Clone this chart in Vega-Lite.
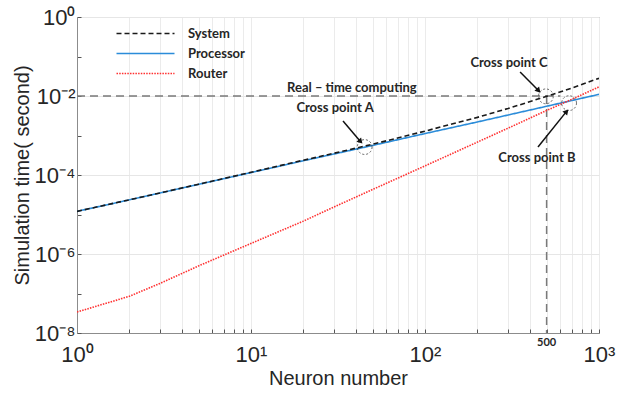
{
  "$schema": "https://vega.github.io/schema/vega-lite/v6.json",
  "width": 522,
  "height": 316,
  "autosize": {"type": "none"},
  "padding": {"left": 77, "top": 17, "right": 18, "bottom": 67},
  "background": "white",
  "config": {
    "view": {"stroke": "#8c8c8c", "strokeWidth": 1},
    "font": "Liberation Sans",
    "legend": {"title": null, "orient": "none", "legendX": 62, "legendY": 10,
      "symbolType": "M-5.8,0H5.8", "symbolSize": 100, "symbolStrokeWidth": 1.6,
      "labelFont": "Lato", "labelFontWeight": "bold", "labelFontSize": 13, "labelColor": "#262626",
      "labelOffset": 36, "rowPadding": 6, "padding": 0}
  },
  "datasets": {
    "curves": [
      {"n": 1, "value": 1.2e-5, "series": "Processor"},
      {"n": 2, "value": 2.35e-5, "series": "Processor"},
      {"n": 3, "value": 3.5e-5, "series": "Processor"},
      {"n": 5, "value": 5.8e-5, "series": "Processor"},
      {"n": 10, "value": 1.15e-4, "series": "Processor"},
      {"n": 20, "value": 2.3e-4, "series": "Processor"},
      {"n": 30, "value": 3.4e-4, "series": "Processor"},
      {"n": 50, "value": 5.6e-4, "series": "Processor"},
      {"n": 100, "value": 1.12e-3, "series": "Processor"},
      {"n": 200, "value": 2.2e-3, "series": "Processor"},
      {"n": 300, "value": 3.3e-3, "series": "Processor"},
      {"n": 500, "value": 5.5e-3, "series": "Processor"},
      {"n": 700, "value": 7.7e-3, "series": "Processor"},
      {"n": 1000, "value": 1.1e-2, "series": "Processor"},
      {"n": 1, "value": 3.4e-8, "series": "Router"},
      {"n": 2, "value": 8.5e-8, "series": "Router"},
      {"n": 3, "value": 1.8e-7, "series": "Router"},
      {"n": 5, "value": 5.0e-7, "series": "Router"},
      {"n": 10, "value": 1.85e-6, "series": "Router"},
      {"n": 20, "value": 6.8e-6, "series": "Router"},
      {"n": 30, "value": 1.55e-5, "series": "Router"},
      {"n": 50, "value": 4.3e-5, "series": "Router"},
      {"n": 100, "value": 1.7e-4, "series": "Router"},
      {"n": 200, "value": 6.8e-4, "series": "Router"},
      {"n": 300, "value": 1.53e-3, "series": "Router"},
      {"n": 500, "value": 4.3e-3, "series": "Router"},
      {"n": 700, "value": 8.3e-3, "series": "Router"},
      {"n": 1000, "value": 1.7e-2, "series": "Router"},
      {"n": 1, "value": 1.2e-5, "series": "System"},
      {"n": 2, "value": 2.36e-5, "series": "System"},
      {"n": 3, "value": 3.52e-5, "series": "System"},
      {"n": 5, "value": 5.85e-5, "series": "System"},
      {"n": 10, "value": 1.17e-4, "series": "System"},
      {"n": 20, "value": 2.37e-4, "series": "System"},
      {"n": 30, "value": 3.55e-4, "series": "System"},
      {"n": 50, "value": 6.0e-4, "series": "System"},
      {"n": 100, "value": 1.29e-3, "series": "System"},
      {"n": 200, "value": 2.88e-3, "series": "System"},
      {"n": 300, "value": 4.83e-3, "series": "System"},
      {"n": 500, "value": 9.8e-3, "series": "System"},
      {"n": 700, "value": 1.6e-2, "series": "System"},
      {"n": 1000, "value": 2.8e-2, "series": "System"}
    ],
    "refs": [
      {"n": 1, "v": 0.01, "n2": 600, "v2": 0.01},
      {"n": 500, "v": 0.01, "n2": 500, "v2": 1e-8}
    ],
    "circles": [
      {"name": "A", "n": 45, "v": 5.1e-4},
      {"name": "C", "n": 495, "v": 0.0098},
      {"name": "B", "n": 673, "v": 6.6e-3}
    ],
    "arrows": [
      {"name": "A", "n": 33.8, "v": 2.33e-3, "n2": 42.3, "v2": 7.3e-4},
      {"name": "C", "n": 352, "v": 4.05e-2, "n2": 446, "v2": 1.42e-2},
      {"name": "B", "n": 446, "v": 5.1e-4, "n2": 646, "v2": 3.9e-3}
    ],
    "labels": [
      {"text": "Real – time computing", "n": 38, "v": 0.016},
      {"text": "Cross point A", "n": 30.4, "v": 5.0e-3},
      {"text": "Cross point C", "n": 304, "v": 6.8e-2},
      {"text": "Cross point B", "n": 440, "v": 2.7e-4}
    ],
    "ticklabel": [
      {"text": "500", "n": 500, "v": 5.6e-9}
    ]
  },
  "layer": [
    {
      "data": {"name": "refs"},
      "mark": {"type": "rule", "stroke": "#7a7a7a", "strokeDash": [8, 5], "strokeWidth": 1.5},
      "encoding": {
        "x": {"field": "n", "type": "quantitative", "scale": {"type": "log", "domain": [1, 1000], "nice": false},
          "axis": {
            "title": "Neuron number",
            "values": [1,2,3,4,5,6,7,8,9,10,20,30,40,50,60,70,80,90,100,200,300,400,500,600,700,800,900,1000],
            "labelExpr": "datum.value == 1 ? '10⁰' : datum.value == 10 ? '10¹' : datum.value == 100 ? '10²' : datum.value == 1000 ? '10³' : ''",
            "labelFlush": false,
            "labelOverlap": false,
            "labelFontSize": 22,
            "labelColor": "#262626",
            "labelPadding": 15,
            "grid": true,
            "gridColor": "#ebebeb",
            "gridWidth": 1,
            "tickSize": -4,
            "tickColor": "#555555",
            "domainColor": "#8c8c8c",
            "titleFontSize": 20,
            "titleFontWeight": "normal",
            "titleColor": "#262626",
            "titlePadding": 3
          }},
        "y": {"field": "v", "type": "quantitative", "scale": {"type": "log", "domain": [1e-8, 1], "nice": false},
          "axis": {
            "title": "Simulation time( second)",
            "values": [1e-8, 1e-7, 1e-6, 1e-5, 1e-4, 1e-3, 1e-2, 1e-1, 1],
            "labelExpr": "datum.value == 1 ? '10⁰' : abs(datum.value - 0.01) < 1e-9 ? '10⁻²' : abs(datum.value - 1e-4) < 1e-11 ? '10⁻⁴' : abs(datum.value - 1e-6) < 1e-13 ? '10⁻⁶' : abs(datum.value - 1e-8) < 1e-15 ? '10⁻⁸' : ''",
            "labelOverlap": false,
            "labelFlush": false,
            "labelFontSize": 22,
            "labelColor": "#262626",
            "labelPadding": 6,
            "grid": true,
            "gridColor": "#e6e6e6",
            "gridOpacity": {"condition": {"test": "datum.value == 1 || abs(datum.value - 0.01) < 1e-9 || abs(datum.value - 1e-4) < 1e-11 || abs(datum.value - 1e-6) < 1e-13", "value": 1}, "value": 0},
            "tickSize": -4,
            "tickColor": "#555555",
            "domainColor": "#8c8c8c",
            "titleFontSize": 20,
            "titleFontWeight": "normal",
            "titleColor": "#262626",
            "titlePadding": 2
          }},
        "x2": {"field": "n2"},
        "y2": {"field": "v2"}
      }
    },
    {
      "data": {"name": "curves"},
      "mark": {"type": "line", "strokeWidth": 1.6, "clip": true},
      "encoding": {
        "x": {"field": "n", "type": "quantitative"},
        "y": {"field": "value", "type": "quantitative"},
        "color": {"field": "series", "type": "nominal",
          "scale": {"domain": ["System", "Processor", "Router"], "range": ["#1a1a1a", "#2b8cd9", "#ff3030"]}},
        "strokeDash": {"field": "series", "type": "nominal",
          "scale": {"domain": ["System", "Processor", "Router"], "range": [[5, 3], [1, 0], [1.5, 1.2]]}}
      }
    },
    {
      "data": {"name": "circles"},
      "mark": {"type": "point", "shape": "circle", "filled": false, "stroke": "#222222", "strokeWidth": 1, "strokeDash": [2, 2], "size": 220},
      "encoding": {
        "x": {"field": "n", "type": "quantitative"},
        "y": {"field": "v", "type": "quantitative"}
      }
    },
    {
      "data": {"name": "arrows"},
      "mark": {"type": "rule", "stroke": "#111111", "strokeWidth": 1.5},
      "encoding": {
        "x": {"field": "n", "type": "quantitative"},
        "y": {"field": "v", "type": "quantitative"},
        "x2": {"field": "n2"},
        "y2": {"field": "v2"}
      }
    },
    {
      "data": {"name": "arrows"},
      "transform": [{"filter": "datum.name != 'B'"}],
      "mark": {"type": "point", "shape": "triangle", "filled": true, "color": "#111111", "opacity": 1, "size": 40, "angle": 138},
      "encoding": {
        "x": {"field": "n2", "type": "quantitative"},
        "y": {"field": "v2", "type": "quantitative"}
      }
    },
    {
      "data": {"name": "arrows"},
      "transform": [{"filter": "datum.name == 'B'"}],
      "mark": {"type": "point", "shape": "triangle", "filled": true, "color": "#111111", "opacity": 1, "size": 40, "angle": 41},
      "encoding": {
        "x": {"field": "n2", "type": "quantitative"},
        "y": {"field": "v2", "type": "quantitative"}
      }
    },
    {
      "data": {"name": "labels"},
      "mark": {"type": "text", "font": "Lato", "fontWeight": "bold", "fontSize": 13, "color": "#262626", "align": "center", "baseline": "middle"},
      "encoding": {
        "x": {"field": "n", "type": "quantitative"},
        "y": {"field": "v", "type": "quantitative"},
        "text": {"field": "text"}
      }
    },
    {
      "data": {"name": "ticklabel"},
      "mark": {"type": "text", "font": "Lato", "fontWeight": "bold", "fontSize": 11, "color": "#262626", "align": "center", "baseline": "middle", "clip": false},
      "encoding": {
        "x": {"field": "n", "type": "quantitative"},
        "y": {"field": "v", "type": "quantitative"},
        "text": {"field": "text"}
      }
    }
  ]
}
